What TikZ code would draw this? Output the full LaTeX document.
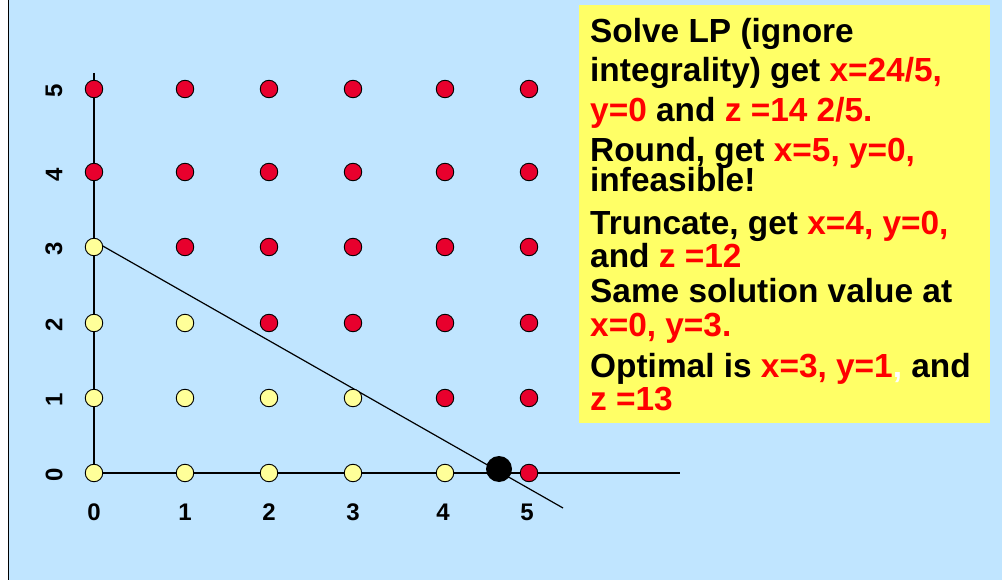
\documentclass[tikz,border=0pt]{standalone}
\usepackage{fontspec}
\setmainfont{Liberation Sans}
\definecolor{bg}{HTML}{C0E5FF}
\definecolor{ptyellow}{HTML}{FFFF99}
\definecolor{ptred}{HTML}{E8002D}
\definecolor{boxyellow}{HTML}{FFFF66}
\definecolor{txred}{HTML}{FF0000}
\newcommand{\rd}[1]{\textcolor{txred}{#1}}
\begin{document}
\begin{tikzpicture}[x=1pt,y=-1pt,
  dotbase/.style={circle,draw=black,line width=0.9pt,minimum size=17.5pt,inner sep=0pt},
  dotY/.style={dotbase,fill=ptyellow},
  dotR/.style={dotbase,fill=ptred},
  axlab/.style={inner sep=0pt,font=\bfseries\fontsize{24}{24}\selectfont},
  txline/.style={anchor=base west,inner sep=0pt,font=\bfseries\fontsize{33.4}{33}\selectfont},
  axline/.style={line width=1.2pt,black}]
\useasboundingbox (0,0) rectangle (1002,580);
\fill[bg] (0,0) rectangle (1002,580);
\fill[white] (0,0) rectangle (8,580);
\draw[line width=1.2pt] (8.5,0) -- (8.5,580);
% axes
\coordinate (ytop) at (94,73);
\coordinate (orig) at (94,473);
\coordinate (xend) at (680,473);
\coordinate (d1) at (94,241);
\coordinate (d2) at (563,508);
\draw[axline] (ytop) -- (orig) -- (xend);
\draw[axline] (d1) -- (d2);
% grid points
\foreach \i/\x in {0/94,1/185,2/269,3/353,4/445,5/529}{
  \foreach \j/\y in {0/473,1/398,2/323,3/247,4/172,5/89}{
    \pgfmathtruncatemacro{\feas}{(5*\i+8*\j<=24)?1:0}
    \ifnum\feas=1
      \node[dotY] (p\i\j) at (\x,\y) {};
    \else
      \node[dotR] (p\i\j) at (\x,\y) {};
    \fi
  }
}
% LP optimum
\node[circle,fill=black,minimum size=26pt,inner sep=0pt] (lp) at (499,469) {};
% axis labels
\foreach \i/\x in {0/94,1/185,2/269,3/353,4/443,5/527}{
  \node[axlab,anchor=base] (xl\i) at (\x,520) {\i};
}
\foreach \j/\y in {0/475,1/400,2/325,3/249,4/175,5/91}{
  \node[axlab,rotate=90] (yl\j) at (54,\y) {\j};
}
% text box
\fill[boxyellow] (579,5) rectangle (990,423);
\node[txline] (l1) at (590,43) {Solve LP (ignore};
\node[txline] (l2) at (590,82) {integrality) get \rd{x=24/5,}};
\node[txline] (l3) at (590,122) {\rd{y=0} and \rd{z =14 2/5.}};
\node[txline] (l4) at (590,162) {Round, get \rd{x=5, y=0,}};
\node[txline] (l5) at (590,192) {infeasible!};
\node[txline] (l6) at (590,235) {Truncate, get \rd{x=4, y=0,}};
\node[txline] (l7) at (590,268) {and \rd{z =12}};
\node[txline] (l8) at (590,302) {Same solution value at};
\node[txline] (l9) at (590,337) {\rd{x=0, y=3.}};
\node[txline] (l10) at (590,377) {Optimal is \rd{x=3, y=1}\textcolor{white}{,} and};
\node[txline] (l11) at (590,410) {\rd{z =13}};
\end{tikzpicture}
\end{document}
